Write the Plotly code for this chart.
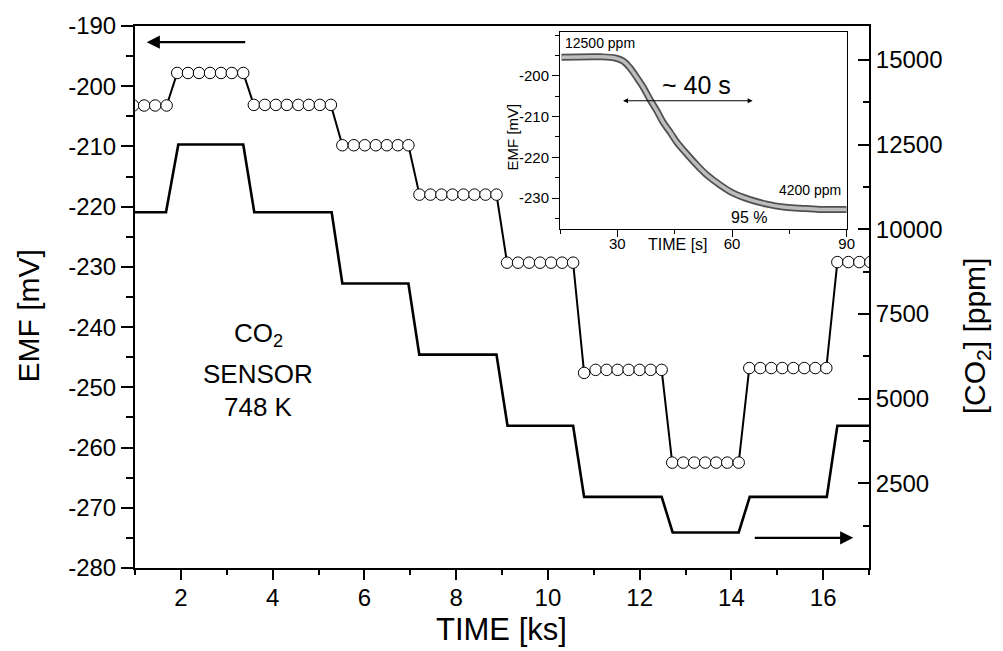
import plotly.graph_objects as go

# ---------------- data ----------------
# EMF of the CO2 sensor (open circles, left axis)
emf_time = [0.96, 1.20, 1.44, 1.69,
            1.92, 2.155, 2.395, 2.635, 2.875, 3.11, 3.36,
            3.59, 3.83, 4.07, 4.31, 4.56, 4.79, 5.03, 5.27,
            5.52, 5.77, 6.01, 6.25, 6.49, 6.73, 6.96,
            7.20, 7.44, 7.68, 7.92, 8.16, 8.40, 8.64, 8.88,
            9.11, 9.35, 9.59, 9.83, 10.07, 10.31, 10.55,
            10.79, 11.04, 11.28, 11.52, 11.76, 12.00, 12.24, 12.48,
            12.71, 12.95, 13.19, 13.43, 13.67, 13.91, 14.16,
            14.39, 14.63, 14.87, 15.11, 15.35, 15.59, 15.83, 16.07,
            16.31, 16.55, 16.79, 17.03]
emf_mv = [-203.2, -203.2, -203.2, -203.2,
          -197.8, -197.8, -197.8, -197.8, -197.8, -197.8, -197.8,
          -203.1, -203.1, -203.1, -203.1, -203.1, -203.1, -203.1, -203.1,
          -209.8, -209.8, -209.8, -209.8, -209.8, -209.8, -209.8,
          -218.0, -218.0, -218.0, -218.0, -218.0, -218.0, -218.0, -218.0,
          -229.3, -229.3, -229.3, -229.3, -229.3, -229.3, -229.3,
          -247.6, -247.1, -247.1, -247.1, -247.1, -247.1, -247.1, -247.1,
          -262.5, -262.5, -262.5, -262.5, -262.5, -262.5, -262.5,
          -246.8, -246.8, -246.8, -246.8, -246.8, -246.8, -246.8, -246.8,
          -229.2, -229.2, -229.2, -229.2]

# CO2 concentration (solid line, right axis)
co2_time = [1.0, 1.676, 1.944, 3.36, 3.60, 5.287, 5.52, 6.96, 7.197, 8.88,
            9.12, 10.55, 10.79, 12.48, 12.72, 14.16, 14.40, 16.08, 16.31, 17.0]
co2_ppm = [10500, 10500, 12500, 12500, 10500, 10500, 8400, 8400, 6300, 6300,
           4200, 4200, 2100, 2100, 1050, 1050, 2100, 2100, 4200, 4200]

# inset: response transient 12500 -> 4200 ppm
inset_time = [15.4, 25.5, 29.4, 31.6, 33.3, 35.1, 36.8, 38.5, 40.3, 42.0, 43.8,
              45.5, 48.1, 50.8, 53.4, 56.9, 60.3, 64.7, 69.1, 73.4, 77.8, 83.0, 90.0]
inset_emf = [-195.4, -195.3, -195.6, -196.4, -198.0, -200.4, -202.8, -205.7, -208.5,
             -211.4, -213.8, -216.2, -219.1, -221.9, -224.3, -226.8, -228.8, -230.4,
             -231.5, -232.2, -232.5, -232.8, -232.8]

# tick labels
left_ticks = [-280, -270, -260, -250, -240, -230, -220, -210, -200, -190]
left_tick_labels = ["-280", "-270", "-260", "-250", "-240", "-230", "-220", "-210", "-200", "-190"]
right_ticks = [2500, 5000, 7500, 10000, 12500, 15000]
right_tick_labels = ["2500", "5000", "7500", "10000", "12500", "15000"]
bottom_ticks = [2, 4, 6, 8, 10, 12, 14, 16]
bottom_tick_labels = ["2", "4", "6", "8", "10", "12", "14", "16"]
inset_x_ticks = [30, 60, 90]
inset_x_tick_labels = ["30", "60", "90"]
inset_y_ticks = [-230, -220, -210, -200]
inset_y_tick_labels = ["-230", "-220", "-210", "-200"]

FONT = "Liberation Sans, Arial, sans-serif"
W, H = 1003, 651
ML, MR, MT, MB = 135, 134, 23, 83
PW, PH = W - ML - MR, H - MT - MB


def px(x):
    return (x - ML) / PW


def py(y):
    return (H - MB - y) / PH


fig = go.Figure()

fig.add_trace(go.Scatter(
    x=co2_time, y=co2_ppm, xaxis="x", yaxis="y2", mode="lines",
    line=dict(color="black", width=2.6), hoverinfo="skip"))

fig.add_trace(go.Scatter(
    x=emf_time, y=emf_mv, xaxis="x", yaxis="y", mode="lines+markers",
    line=dict(color="black", width=2),
    marker=dict(symbol="circle", size=11.5, color="white",
                line=dict(color="black", width=1)),
    hoverinfo="skip"))

# inset curve: dense open-circle band imitated by two stacked lines
fig.add_trace(go.Scatter(
    x=inset_time, y=inset_emf, xaxis="x2", yaxis="y3", mode="lines",
    line=dict(color="#505050", width=7, shape="spline"), hoverinfo="skip"))
fig.add_trace(go.Scatter(
    x=inset_time, y=inset_emf, xaxis="x2", yaxis="y3", mode="lines",
    line=dict(color="#bdbdbd", width=3.5, shape="spline"), hoverinfo="skip"))

fig.update_layout(
    width=W, height=H,
    margin=dict(l=ML, r=MR, t=MT, b=MB),
    paper_bgcolor="white", plot_bgcolor="white",
    showlegend=False,
    font=dict(family=FONT, color="black"),
    xaxis=dict(
        domain=[0, 1], range=[1, 17], anchor="y",
        showline=True, linecolor="black", linewidth=2, mirror=True,
        showgrid=False, zeroline=False,
        tickmode="array", tickvals=bottom_ticks, ticktext=bottom_tick_labels,
        ticks="outside", ticklen=10, tickwidth=2, tickcolor="black",
        tickfont=dict(size=24, family=FONT), ticklabelstandoff=-3,
        minor=dict(ticks="outside", ticklen=5, tickwidth=2, tickcolor="black",
                   dtick=1, tick0=0, showgrid=False),
    ),
    yaxis=dict(
        domain=[0, 1], range=[-280, -190], anchor="x", side="left",
        showline=True, linecolor="black", linewidth=2,
        showgrid=False, zeroline=False,
        tickmode="array", tickvals=left_ticks, ticktext=left_tick_labels,
        ticks="outside", ticklen=12, tickwidth=2, tickcolor="black",
        tickfont=dict(size=24, family=FONT),
        minor=dict(ticks="outside", ticklen=7, tickwidth=2, tickcolor="black",
                   dtick=5, tick0=0, showgrid=False),
    ),
    yaxis2=dict(
        overlaying="y", side="right", anchor="x", range=[0, 16000],
        showline=True, linecolor="black", linewidth=2,
        showgrid=False, zeroline=False,
        tickmode="array", tickvals=right_ticks, ticktext=right_tick_labels,
        ticks="inside", ticklen=11, tickwidth=2, tickcolor="black",
        tickfont=dict(size=24, family=FONT),
        minor=dict(ticks="inside", ticklen=6, tickwidth=2, tickcolor="black",
                   dtick=1250, tick0=0, showgrid=False),
    ),
    xaxis2=dict(
        domain=[px(560), px(846.7)], anchor="y3", range=[15, 90],
        showline=True, linecolor="black", linewidth=1, mirror=True,
        showgrid=False, zeroline=False,
        tickmode="array", tickvals=inset_x_ticks, ticktext=inset_x_tick_labels,
        ticks="outside", ticklen=7, tickwidth=1, tickcolor="black",
        tickfont=dict(size=15, family=FONT), ticklabelstandoff=-6,
        minor=dict(ticks="outside", ticklen=4, tickwidth=1, tickcolor="black",
                   dtick=15, tick0=0, showgrid=False),
    ),
    yaxis3=dict(
        domain=[py(226.7), py(29)], anchor="x2", range=[-237.5, -189.2],
        showline=True, linecolor="black", linewidth=1, mirror=True,
        showgrid=False, zeroline=False,
        tickmode="array", tickvals=inset_y_ticks, ticktext=inset_y_tick_labels,
        ticks="outside", ticklen=7, tickwidth=1, tickcolor="black",
        tickfont=dict(size=15, family=FONT),
        minor=dict(ticks="outside", ticklen=4, tickwidth=1, tickcolor="black",
                   dtick=5, tick0=0, showgrid=False),
    ),
)


def label(text, x, y, size, angle=0, xanchor="center"):
    fig.add_annotation(text=text, x=px(x), y=py(y), xref="paper", yref="paper",
                       xanchor=xanchor, yanchor="middle", showarrow=False,
                       textangle=angle, font=dict(size=size, family=FONT, color="black"))


def arrow(x0, x1, y, ref_x="x", ref_y="y", **kw):
    fig.add_annotation(x=x1, y=y, ax=x0, ay=y,
                       xref=ref_x, yref=ref_y, axref=ref_x, ayref=ref_y,
                       text="", showarrow=True, arrowcolor="black", **kw)


# axis titles
label("EMF [mV]", 28, 315, 30, angle=-90)
label("TIME [ks]", 501, 630, 31)
label("[CO<sub>2</sub>] [ppm]", 976, 335, 30, angle=-90)

# sensor note
label("CO<sub>2</sub>", 258, 333, 26)
label("SENSOR", 258, 373, 26)
label("748 K", 258, 406, 26)

# inset texts
label("12500 ppm", 563, 40, 14, xanchor="left")
label("4200 ppm", 843, 188, 14, xanchor="right")
label("95 %", 748.5, 216, 16)
label("~ 40 s", 696.5, 82, 25)
label("TIME [s]", 678, 243, 16)
label("EMF [mV]", 512, 135, 15, angle=-90)

# axis direction arrows (main plot domain coordinates)
arrow(px(246.7), px(146.7), py(39.3), "x domain", "y domain",
      arrowhead=2, arrowsize=1.2, arrowwidth=2.2)
arrow(px(753.3), px(853.3), py(537.7), "x domain", "y domain",
      arrowhead=2, arrowsize=1.2, arrowwidth=2.2)
# inset double arrow (~40 s)
arrow(31.1, 65.4, -206.1, "x2", "y3", arrowhead=2, startarrowhead=2,
      arrowside="end+start", arrowsize=1, startarrowsize=1, arrowwidth=1)

fig.write_html("out.html")
